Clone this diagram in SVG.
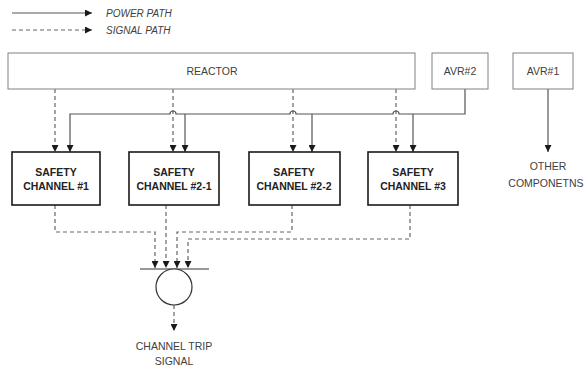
<svg xmlns="http://www.w3.org/2000/svg" width="587" height="370" viewBox="0 0 587 370">
  <defs>
    <marker id="arrow" viewBox="0 0 8 8" refX="8" refY="4" markerWidth="7" markerHeight="7" markerUnits="userSpaceOnUse" orient="auto">
      <path d="M0,0 L8,4 L0,8 Z" fill="#1a1a1a"/>
    </marker>
    <style>
      text { font-family: "Liberation Sans", Arial, sans-serif; fill: #404040; }
      .lbl { font-size: 10.5px; text-anchor: middle; }
      .bold { font-size: 10.5px; font-weight: bold; text-anchor: middle; fill: #222; }
      .legend { font-size: 10px; font-style: italic; }
      .src { fill: #fff; stroke: #808080; stroke-width: 1; }
      .chan { fill: #fff; stroke: #1a1a1a; stroke-width: 1.6; }
      .power { fill: none; stroke: #555; stroke-width: 1.2; }
      .signal { fill: none; stroke: #666; stroke-width: 1.2; stroke-dasharray: 4 3; }
    </style>
  </defs>

  <rect width="587" height="370" fill="#fff"/>

  <!-- legend -->
  <g id="legend">
    <path class="power" d="M12,13 H92" marker-end="url(#arrow)"/>
    <path class="signal" d="M12,30 H92" marker-end="url(#arrow)"/>
    <text class="legend" x="106" y="17">POWER PATH</text>
    <text class="legend" x="106" y="34">SIGNAL PATH</text>
  </g>

  <!-- connectors -->
  <g id="connectors">
    <!-- reactor signal feeds -->
    <path class="signal" d="M55,89 V152" marker-end="url(#arrow)"/>
    <path class="signal" d="M173,89 V152" marker-end="url(#arrow)"/>
    <path class="signal" d="M293,89 V152" marker-end="url(#arrow)"/>
    <path class="signal" d="M396,89 V152" marker-end="url(#arrow)"/>
    <!-- AVR#2 power bus with jumps over signal lines -->
    <path class="power" d="M465,89 V114 H399 A3,3 0 0 0 393,114 H296 A3,3 0 0 0 290,114 H176 A3,3 0 0 0 170,114 H70 V152" marker-end="url(#arrow)"/>
    <path class="power" d="M185,114 V152" marker-end="url(#arrow)"/>
    <path class="power" d="M312,114 V152" marker-end="url(#arrow)"/>
    <path class="power" d="M413,114 V152" marker-end="url(#arrow)"/>
    <!-- AVR#1 to other components -->
    <path class="power" d="M548,89 V152" marker-end="url(#arrow)"/>
    <!-- channel outputs to voting logic -->
    <path class="signal" d="M55,205 V232 H155 V268" marker-end="url(#arrow)"/>
    <path class="signal" d="M166,205 V268" marker-end="url(#arrow)"/>
    <path class="signal" d="M292,205 V232 H177 V268" marker-end="url(#arrow)"/>
    <path class="signal" d="M410,205 V239 H188 V268" marker-end="url(#arrow)"/>
    <!-- trip output -->
    <path class="signal" d="M174,305 V331" marker-end="url(#arrow)"/>
  </g>

  <!-- sources -->
  <g id="reactor">
    <rect class="src" x="8" y="53" width="407" height="36"/>
    <text class="lbl" x="212" y="75">REACTOR</text>
  </g>
  <g id="avr2">
    <rect class="src" x="432" y="53" width="56" height="36"/>
    <text class="lbl" x="460" y="75">AVR#2</text>
  </g>
  <g id="avr1">
    <rect class="src" x="513" y="53" width="60" height="36"/>
    <text class="lbl" x="543" y="75">AVR#1</text>
  </g>

  <!-- safety channels -->
  <g id="channel1">
    <rect class="chan" x="12" y="152" width="88" height="53"/>
    <text class="bold" x="56" y="176">SAFETY</text>
    <text class="bold" x="56" y="190">CHANNEL #1</text>
  </g>
  <g id="channel2-1">
    <rect class="chan" x="129" y="152" width="90" height="53"/>
    <text class="bold" x="174" y="176">SAFETY</text>
    <text class="bold" x="174" y="190">CHANNEL #2-1</text>
  </g>
  <g id="channel2-2">
    <rect class="chan" x="249" y="152" width="91" height="53"/>
    <text class="bold" x="294" y="176">SAFETY</text>
    <text class="bold" x="294" y="190">CHANNEL #2-2</text>
  </g>
  <g id="channel3">
    <rect class="chan" x="368" y="152" width="90" height="53"/>
    <text class="bold" x="413" y="176">SAFETY</text>
    <text class="bold" x="413" y="190">CHANNEL #3</text>
  </g>

  <!-- other components -->
  <g id="other">
    <text class="lbl" x="548" y="170">OTHER</text>
    <text class="lbl" x="546" y="187">COMPONETNS</text>
  </g>

  <!-- voting logic -->
  <g id="voter">
    <path d="M140,269 H209" stroke="#333" stroke-width="1.2" fill="none"/>
    <circle cx="174" cy="287" r="18" fill="#fff" stroke="#333" stroke-width="1.2"/>
  </g>
  <g id="trip">
    <text class="lbl" x="174" y="350">CHANNEL TRIP</text>
    <text class="lbl" x="174" y="365">SIGNAL</text>
  </g>
</svg>
